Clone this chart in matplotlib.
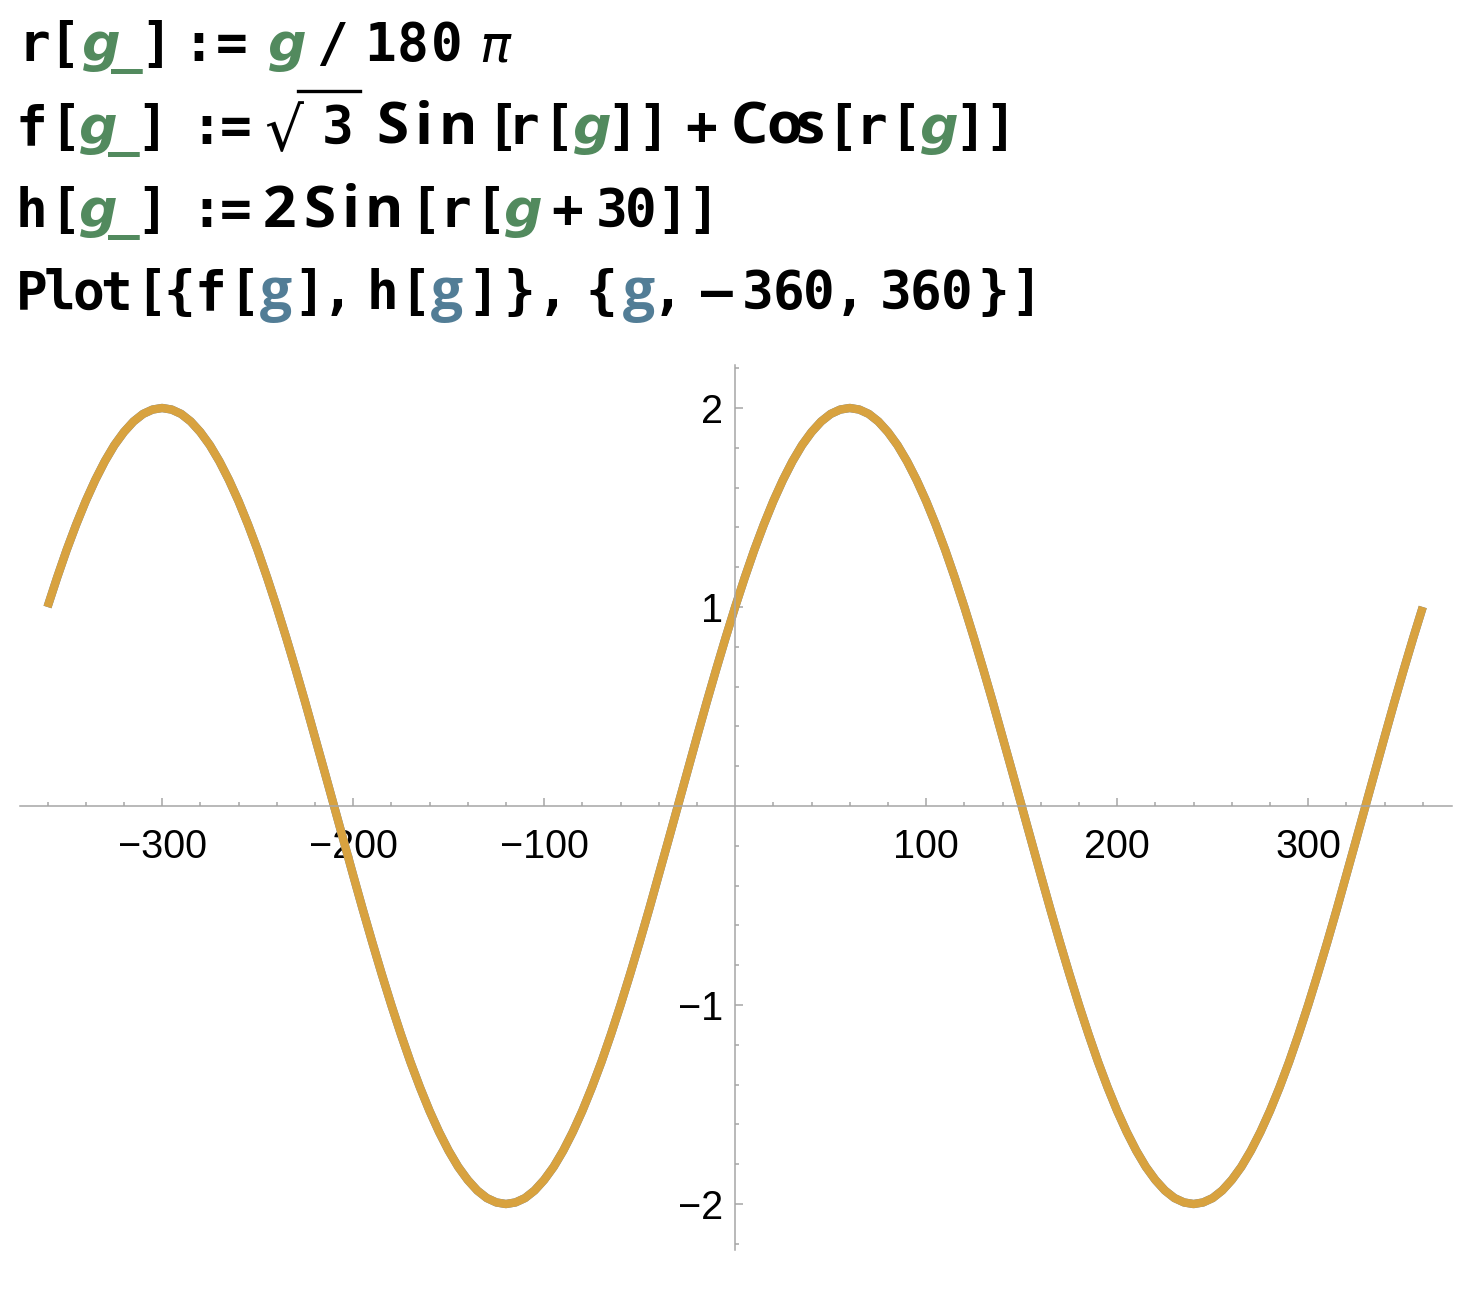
import matplotlib
matplotlib.use("Agg")
import matplotlib.pyplot as plt
from matplotlib.lines import Line2D
from matplotlib.ticker import FixedLocator

# ---------------- data ----------------
g_values = list(range(-360, 361, 5))
# one period of the curve sampled every 5 degrees, starting at g = -360
period_values = [1.0, 1.147, 1.286, 1.414, 1.532, 1.638, 1.732, 1.813, 1.879, 1.932, 1.97, 1.992,
                 2.0, 1.992, 1.97, 1.932, 1.879, 1.813, 1.732, 1.638, 1.532, 1.414, 1.286, 1.147,
                 1.0, 0.845, 0.684, 0.518, 0.347, 0.174, 0.0, -0.174, -0.347, -0.518, -0.684, -0.845,
                 -1.0, -1.147, -1.286, -1.414, -1.532, -1.638, -1.732, -1.813, -1.879, -1.932, -1.97, -1.992,
                 -2.0, -1.992, -1.97, -1.932, -1.879, -1.813, -1.732, -1.638, -1.532, -1.414, -1.286, -1.147,
                 -1.0, -0.845, -0.684, -0.518, -0.347, -0.174, 0.0, 0.174, 0.347, 0.518, 0.684, 0.845]
f_values = period_values + period_values + [1.0]
h_values = period_values + period_values + [1.0]
x_major = [-300, -200, -100, 100, 200, 300]
x_labels = ["\u2212300", "\u2212200", "\u2212100", "100", "200", "300"]
y_major = [-2, -1, 1, 2]
y_labels = ["\u22122", "\u22121", "1", "2"]

W, H = 1462, 1292
fig = plt.figure(figsize=(W / 100, H / 100), dpi=100)
fig.patch.set_facecolor("white")

# ---------------- plot ----------------
ax = fig.add_axes([20 / W, 1 - 1250 / H, (1452 - 20) / W, (1250 - 365) / H])
ax.plot(g_values, f_values, color="#5E81B5", lw=6.0, solid_capstyle="butt", solid_joinstyle="round")
ax.plot(g_values, h_values, color="#D8A23F", lw=6.0, solid_capstyle="butt", solid_joinstyle="round")
ax.set_xlim(-374.4, 375.3)
ax.set_ylim(-2.231, 2.216)

axcol = "#A6A6A6"
for s in ["top", "right"]:
    ax.spines[s].set_visible(False)
ax.spines["left"].set_position(("data", 0))
ax.spines["bottom"].set_position(("data", 0))
for s in ["left", "bottom"]:
    ax.spines[s].set_color(axcol)
    ax.spines[s].set_linewidth(1.1)

ax.xaxis.set_major_locator(FixedLocator(x_major))
ax.set_xticklabels(x_labels)
ax.xaxis.set_minor_locator(FixedLocator([v for v in range(-360, 361, 20) if v % 100 != 0]))
ax.yaxis.set_major_locator(FixedLocator(y_major))
ax.set_yticklabels(y_labels)
ax.yaxis.set_minor_locator(FixedLocator([round(v * 0.2, 1) for v in range(-11, 12) if v % 5 != 0]))
ax.tick_params(which="both", direction="in", color=axcol, width=1.1,
               labelsize=28.5, labelcolor="black")
ax.tick_params(which="major", length=5.5)
ax.tick_params(which="minor", length=3)
ax.tick_params(axis="x", which="major", pad=16)
ax.tick_params(axis="y", which="major", pad=9)
for lab in ax.get_xticklabels() + ax.get_yticklabels():
    lab.set_fontfamily(["Liberation Sans", "DejaVu Sans"])
ax.set_facecolor("white")

# ---------------- code text ----------------
K = "black"
G = "#528A5E"
B = "#527D96"
FS = 38
mono = dict(family="DejaVu Sans Mono", weight="bold", size=FS)
ital = dict(family="DejaVu Sans", weight="bold", style="oblique", size=FS + 1)
undr = dict(family="DejaVu Sans Mono", weight="bold", size=FS)
sans = dict(family="Open Sans", weight="bold", size=FS + 4)
bsans = dict(family="Open Sans", weight="bold", size=FS + 3)
pif = dict(family="DejaVu Sans", style="oblique", size=FS - 1)


def put(baseline, tokens):
    for text, x0, x1, color, props in tokens:
        n = len(text)
        step = (x1 - x0) / n
        for i, ch in enumerate(text):
            xc = x0 + (i + 0.5) * step
            fig.text(xc / W, 1 - baseline / H, ch, ha="center", va="baseline",
                     color=color, **props)


put(61, [("r", 22, 46, K, mono), ("[", 57, 70, K, mono), ("g", 83, 119, G, ital),
         ("_", 111, 142, G, undr), ("]", 151, 162, K, mono), (":", 191, 205, K, mono),
         ("=", 215, 248, K, mono), ("g", 269, 305, G, ital), ("/", 321, 342, K, mono),
         ("180", 363, 463, K, mono), ("\u03c0", 482, 508, K, pif)])

put(144, [("f", 20, 43, K, mono), ("[", 60, 70, K, mono), ("g", 82, 115, G, ital),
          ("_", 110, 138, G, undr), ("]", 148, 157, K, mono), (":", 200, 213, K, mono),
          ("=", 223, 248, K, mono), ("3", 325, 350, K, mono),
          ("S", 377, 407, K, sans), ("i", 418, 430, K, sans), ("n", 443, 473, K, sans),
          ("[", 497, 507, K, mono), ("r", 513, 533, K, mono), ("[", 553, 563, K, mono),
          ("g", 575, 610, G, ital), ("]", 617, 627, K, mono), ("]", 648, 658, K, mono),
          ("+", 690, 712, K, mono),
          ("C", 730, 768, K, sans), ("o", 771, 797, K, sans), ("s", 799, 821, K, sans),
          ("[", 837, 847, K, mono),
          ("r", 860, 883, K, mono), ("[", 900, 910, K, mono), ("g", 922, 956, G, ital),
          ("]", 965, 975, K, mono), ("]", 995, 1005, K, mono)])
# square root sign with its bar
fig.text(284 / W, 1 - 151 / H, "\u221a", ha="center", va="baseline", color=K,
         family="DejaVu Sans", size=FS + 6)
fig.add_artist(Line2D([298 / W, 360 / W], [1 - 91 / H, 1 - 91 / H], color=K, lw=2.4))

put(227, [("h", 20, 43, K, mono), ("[", 60, 70, K, mono), ("g", 82, 115, G, ital),
          ("_", 110, 138, G, undr), ("]", 148, 157, K, mono), (":", 200, 213, K, mono),
          ("=", 223, 248, K, mono), ("2", 266, 292, K, sans),
          ("S", 304, 334, K, sans), ("i", 346, 356, K, sans), ("n", 369, 399, K, sans),
          ("[", 420, 430, K, mono), ("r", 445, 465, K, mono), ("[", 485, 495, K, mono),
          ("g", 507, 540, G, ital), ("+", 557, 578, K, mono), ("30", 597, 655, K, mono),
          ("]", 667, 677, K, mono), ("]", 698, 708, K, mono)])

put(309, [("P", 19, 44, K, mono), ("l", 49, 70, K, mono), ("o", 75, 101, K, mono),
          ("t", 104, 128, K, mono), ("[", 145, 156, K, mono), ("{", 169, 189, K, mono),
          ("f", 199, 221, K, mono), ("[", 239, 249, K, mono), ("g", 263, 289, B, bsans),
          ("]", 304, 315, K, mono), (",", 332, 343, K, mono), ("h", 371, 395, K, mono),
          ("[", 410, 421, K, mono), ("g", 434, 460, B, bsans), ("]", 478, 488, K, mono),
          ("}", 510, 528, K, mono), (",", 548, 558, K, mono), ("{", 592, 610, K, mono),
          ("g", 625, 652, B, bsans), (",", 663, 673, K, mono), ("\u2013", 702, 732, K, mono),
          ("360", 742, 834, K, mono), (",", 845, 855, K, mono), ("360", 880, 972, K, mono),
          ("}", 985, 1002, K, mono), ("]", 1020, 1032, K, mono)])

fig.savefig("out.png", dpi=100, facecolor="white")
